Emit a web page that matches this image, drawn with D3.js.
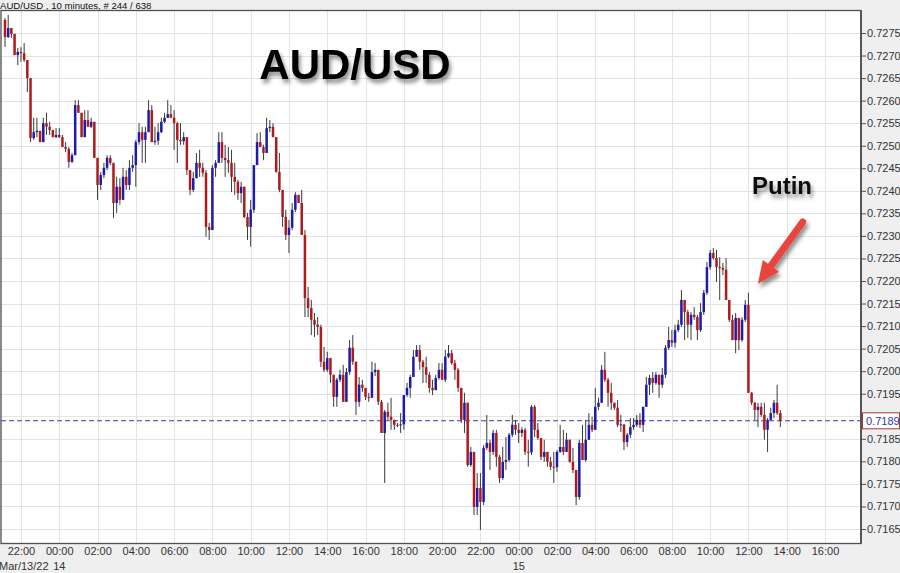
<!DOCTYPE html>
<html>
<head>
<meta charset="utf-8">
<script src="https://cdn.jsdelivr.net/npm/d3@7"></script>
<style>
  html, body { margin: 0; padding: 0; background: #efefef; }
  svg { display: block; font-family: "Liberation Sans", Arial, sans-serif; }
</style>
</head>
<body>
<svg id="chart" width="900" height="573"></svg>
<script>
// 10 minute AUD/USD bars, first bar 21:10 Mar 13 2022, open of each bar = previous close
const startTime = Date.UTC(2022, 2, 13, 21, 10);
const barMinutes = 10;
const firstOpen = 0.72779;

const close = [
  .72741,.72761,.72748,.72701,.72708,.72705,.72690,.72650,.72517,.72530,
  .72533,.72508,.72550,.72542,.72535,.72519,.72524,.72519,.72497,.72493,
  .72464,.72479,.72590,.72573,.72519,.72557,.72542,.72553,.72473,.72413,
  .72435,.72451,.72473,.72462,.72373,.72409,.72380,.72431,.72413,.72451,
  .72457,.72508,.72530,.72513,.72530,.72579,.72508,.72511,.72530,.72553,
  .72562,.72570,.72562,.72550,.72513,.72510,.72519,.72446,.72402,.72428,
  .72462,.72451,.72440,.72320,.72313,.72451,.72462,.72508,.72473,.72468,
  .72462,.72431,.72420,.72395,.72409,.72342,.72320,.72358,.72457,.72508,
  .72497,.72484,.72539,.72542,.72519,.72442,.72402,.72342,.72302,.72318,
  .72358,.72391,.72373,.72302,.72162,.72140,.72114,.72103,.72098,.72021,
  .72003,.72029,.71992,.71943,.71981,.71992,.71932,.71998,.72052,.72021,
  .71932,.71970,.71963,.71943,.71941,.71998,.72003,.71932,.71863,.71910,
  .71899,.71892,.71881,.71880,.71882,.71947,.71963,.71987,.72032,.72047,
  .72021,.72009,.71992,.71963,.71958,.71985,.72003,.71981,.72032,.72040,
  .72018,.72003,.71963,.71892,.71930,.71792,.71821,.71699,.71741,.71710,
  .71830,.71841,.71821,.71863,.71810,.71763,.71799,.71803,.71859,.71881,
  .71870,.71863,.71870,.71821,.71820,.71921,.71870,.71852,.71810,.71821,
  .71799,.71788,.71787,.71821,.71832,.71821,.71848,.71799,.71781,.71721,
  .71841,.71803,.71848,.71881,.71870,.71921,.71930,.72003,.71981,.71952,
  .71930,.71919,.71881,.71882,.71843,.71859,.71876,.71881,.71892,.71881,
  .71921,.71970,.71985,.71974,.71992,.71970,.71992,.72052,.72069,.72063,
  .72091,.72103,.72158,.72131,.72103,.72125,.72120,.72091,.72131,.72174,
  .72231,.72262,.72251,.72231,.72229,.72225,.72158,.72114,.72069,.72118,
  .72069,.72114,.72147,.71952,.71930,.71914,.71921,.71903,.71870,.71892,
  .71907,.71930,.71907,.71890
];

const high = [
  .72783,.72790,.72761,.72748,.72717,.72719,.72728,.72690,.72650,.72562,
  .72562,.72530,.72562,.72573,.72553,.72535,.72539,.72539,.72524,.72508,
  .72497,.72484,.72601,.72601,.72573,.72579,.72579,.72562,.72553,.72473,
  .72442,.72462,.72479,.72479,.72462,.72431,.72428,.72451,.72446,.72468,
  .72479,.72513,.72550,.72542,.72542,.72601,.72590,.72542,.72550,.72562,
  .72573,.72601,.72590,.72579,.72553,.72550,.72530,.72519,.72446,.72442,
  .72484,.72491,.72462,.72446,.72329,.72457,.72468,.72530,.72530,.72502,
  .72497,.72491,.72462,.72424,.72420,.72409,.72351,.72380,.72457,.72528,
  .72530,.72502,.72562,.72557,.72550,.72519,.72484,.72402,.72358,.72335,
  .72373,.72397,.72391,.72402,.72313,.72187,.72158,.72129,.72120,.72103,
  .72054,.72043,.72029,.71992,.71985,.72003,.72014,.72007,.72069,.72080,
  .72021,.71987,.71981,.71963,.71952,.72021,.72018,.71998,.71936,.71914,
  .71930,.71941,.71885,.71885,.71907,.71947,.71974,.71992,.72047,.72058,
  .72058,.72025,.72032,.71998,.71981,.71992,.72018,.72018,.72047,.72058,
  .72047,.72025,.72007,.71963,.71952,.71930,.71832,.71819,.71774,.71774,
  .71836,.71903,.71848,.71870,.71870,.71814,.71832,.71854,.71863,.71903,
  .71892,.71885,.71876,.71874,.71848,.71925,.71925,.71885,.71841,.71848,
  .71821,.71810,.71821,.71825,.71881,.71870,.71863,.71848,.71830,.71781,
  .71848,.71881,.71892,.71907,.71899,.71963,.71941,.72014,.72043,.71985,
  .71974,.71930,.71936,.71903,.71881,.71863,.71896,.71896,.71903,.71907,
  .71921,.71987,.71992,.71998,.71998,.71987,.72007,.72058,.72098,.72091,
  .72103,.72114,.72180,.72158,.72136,.72131,.72142,.72125,.72151,.72180,
  .72242,.72269,.72273,.72269,.72253,.72240,.72251,.72158,.72125,.72129,
  .72118,.72120,.72158,.72174,.71954,.71932,.71930,.71930,.71930,.71896,
  .71919,.71936,.71970,.71914
];

const low = [
  .72719,.72739,.72739,.72701,.72679,.72686,.72686,.72619,.72508,.72513,
  .72519,.72508,.72508,.72524,.72524,.72519,.72517,.72517,.72497,.72486,
  .72451,.72462,.72479,.72573,.72519,.72519,.72542,.72539,.72473,.72380,
  .72402,.72428,.72446,.72457,.72340,.72351,.72369,.72380,.72402,.72402,
  .72442,.72409,.72502,.72462,.72462,.72530,.72508,.72502,.72502,.72528,
  .72550,.72562,.72562,.72491,.72462,.72502,.72502,.72435,.72391,.72397,
  .72428,.72431,.72431,.72298,.72291,.72313,.72431,.72462,.72462,.72431,
  .72440,.72397,.72391,.72380,.72373,.72340,.72291,.72276,.72351,.72457,
  .72497,.72468,.72484,.72530,.72519,.72440,.72397,.72320,.72291,.72262,
  .72313,.72353,.72373,.72302,.72120,.72120,.72080,.72076,.72080,.72009,
  .71998,.71998,.71974,.71921,.71921,.71976,.71932,.71932,.71992,.72014,
  .71903,.71921,.71954,.71936,.71932,.71941,.71989,.71925,.71863,.71752,
  .71892,.71870,.71870,.71876,.71863,.71870,.71943,.71941,.71987,.72032,
  .72003,.71974,.71974,.71952,.71947,.71958,.71981,.71981,.71976,.72029,
  .72014,.71981,.71954,.71885,.71863,.71788,.71788,.71681,.71681,.71648,
  .71703,.71825,.71781,.71814,.71788,.71752,.71759,.71781,.71799,.71854,
  .71859,.71841,.71854,.71814,.71788,.71814,.71854,.71848,.71803,.71799,
  .71788,.71781,.71752,.71777,.71819,.71814,.71821,.71797,.71774,.71703,
  .71715,.71803,.71799,.71848,.71865,.71870,.71914,.71930,.71976,.71921,
  .71914,.71914,.71876,.71865,.71825,.71832,.71852,.71870,.71876,.71874,
  .71865,.71921,.71947,.71952,.71970,.71941,.71963,.71985,.72047,.72054,
  .72052,.72087,.72098,.72069,.72074,.72069,.72114,.72069,.72087,.72125,
  .72169,.72225,.72247,.72198,.72158,.72213,.72158,.72109,.72069,.72040,
  .72047,.72065,.72109,.71952,.71925,.71892,.71876,.71899,.71848,.71821,
  .71892,.71896,.71903,.71876
];

const priceTicks = [
  0.7165, 0.7170, 0.7175, 0.7180, 0.7185, 0.7190, 0.7195, 0.7200, 0.7205, 0.7210, 0.7215, 0.7220,
  0.7225, 0.7230, 0.7235, 0.7240, 0.7245, 0.7250, 0.7255, 0.7260, 0.7265, 0.7270, 0.7275
];
const lastPrice = 0.7189;
const dateLabels = [
  { t: Date.UTC(2022, 2, 13, 21, 10), text: "Mar/13/22" },
  { t: Date.UTC(2022, 2, 14, 0, 0), text: "14" },
  { t: Date.UTC(2022, 2, 15, 0, 0), text: "15" }
];
const headerText = "AUD/USD , 10 minutes, # 244 / 638";
const titleText = "AUD/USD";
const noteText = "Putin";
// arrow annotation, in bar index / price
const arrowFrom = { bar: 250, price: 0.72331 };
const arrowTo = { bar: 236, price: 0.72194 };

const svg = d3.select("#chart");
const frame = { left: 1, right: 861, top: 10.5, bottom: 543.5 };
const barMs = barMinutes * 60 * 1000;

const x = d3.scaleUtc()
  .domain([new Date(startTime), new Date(Date.UTC(2022, 2, 15, 16, 0))])
  .range([5, 825]);
const y = d3.scaleLinear()
  .domain([0.7165, 0.7275])
  .range([529, 33]);

const timeTicks = d3.utcHour.every(2).range(new Date(Date.UTC(2022, 2, 13, 22)), new Date(Date.UTC(2022, 2, 15, 16, 1)));

const bars = close.map((c, i) => {
  const o = i ? close[i - 1] : firstOpen;
  return {
    t: new Date(startTime + i * barMs),
    o: o, c: c,
    h: Math.max(high[i], o, c),
    l: Math.min(low[i], o, c)
  };
});

// defs: shadows
const defs = svg.append("defs");
const sh = defs.append("filter").attr("id", "shadow").attr("x", "-20%").attr("y", "-20%").attr("width", "150%").attr("height", "160%");
sh.append("feGaussianBlur").attr("in", "SourceAlpha").attr("stdDeviation", 2.2).attr("result", "b");
sh.append("feOffset").attr("in", "b").attr("dx", 2).attr("dy", 4).attr("result", "o");
sh.append("feComponentTransfer").attr("in", "o").attr("result", "s")
  .append("feFuncA").attr("type", "linear").attr("slope", 0.45);
const m = sh.append("feMerge");
m.append("feMergeNode").attr("in", "s");
m.append("feMergeNode").attr("in", "SourceGraphic");

// background
svg.append("rect").attr("width", 900).attr("height", 573).attr("fill", "#efefef");
svg.append("rect")
  .attr("x", frame.left).attr("y", frame.top)
  .attr("width", frame.right - frame.left).attr("height", frame.bottom - frame.top)
  .attr("fill", "#fff");

// header
svg.append("text").attr("x", 0).attr("y", 8.5)
  .attr("font-size", 9.6).attr("fill", "#111")
  .text(headerText);

// grid
const grid = svg.append("g").attr("stroke", "#e3e3e3").attr("stroke-width", 1);
grid.selectAll(".gy").data(priceTicks).join("line")
  .attr("x1", frame.left).attr("x2", frame.right)
  .attr("y1", d => Math.round(y(d)) + 0.5).attr("y2", d => Math.round(y(d)) + 0.5);
grid.selectAll(".gx").data(timeTicks).join("line")
  .attr("x1", d => Math.round(x(d)) + 0.5).attr("x2", d => Math.round(x(d)) + 0.5)
  .attr("y1", frame.top).attr("y2", frame.bottom);

// title
svg.append("text")
  .attr("x", 355).attr("y", 79)
  .attr("text-anchor", "middle")
  .attr("font-size", 42).attr("font-weight", "bold").attr("fill", "#000")
  .attr("filter", "url(#shadow)")
  .text(titleText);

// last price line
svg.append("line")
  .attr("x1", frame.left).attr("x2", frame.right)
  .attr("y1", y(lastPrice)).attr("y2", y(lastPrice))
  .attr("stroke", "#3a3a9c").attr("stroke-width", 1)
  .attr("stroke-dasharray", "5,3");

// candles
const candles = svg.append("g");
candles.selectAll("line").data(bars).join("line")
  .attr("x1", d => x(d.t)).attr("x2", d => x(d.t))
  .attr("y1", d => y(d.h)).attr("y2", d => y(d.l))
  .attr("stroke", "#3a3a3a").attr("stroke-width", 1);
candles.selectAll("rect").data(bars).join("rect")
  .attr("x", d => x(d.t) - 1.25)
  .attr("width", 2.5)
  .attr("y", d => y(Math.max(d.o, d.c)))
  .attr("height", d => Math.max(1, Math.abs(y(d.o) - y(d.c))))
  .attr("fill", d => d.c > d.o ? "#1c1ca8" : d.c < d.o ? "#b01a1a" : "#333");

// frame
svg.append("rect")
  .attr("x", frame.left).attr("y", frame.top)
  .attr("width", frame.right - frame.left).attr("height", frame.bottom - frame.top)
  .attr("fill", "none").attr("stroke", "#505050").attr("stroke-width", 1.3);

// right axis (the label under the last price box is left out, the box covers it)
const yAxis = svg.append("g")
  .attr("transform", `translate(${frame.right},0)`)
  .call(d3.axisRight(y).tickValues(priceTicks).tickSize(5).tickPadding(1)
    .tickFormat(d => Math.abs(d - lastPrice) < 0.0003 ? "" : d3.format(".4f")(d)));
yAxis.select(".domain").remove();
yAxis.selectAll("line").attr("stroke", "#505050");
yAxis.selectAll("text").attr("fill", "#333").attr("font-size", 11).attr("font-family", "Liberation Sans, Arial, sans-serif");
svg.append("line")
  .attr("x1", frame.right).attr("x2", frame.right)
  .attr("y1", frame.top).attr("y2", frame.bottom)
  .attr("stroke", "#505050").attr("stroke-width", 1.8);

// bottom axis
const xAxis = svg.append("g")
  .attr("transform", `translate(0,${frame.bottom})`)
  .call(d3.axisBottom(x).tickValues(timeTicks).tickSize(0).tickPadding(4).tickFormat(d3.utcFormat("%H:%M")));
xAxis.select(".domain").remove();
xAxis.selectAll("text").attr("fill", "#333").attr("font-size", 11).attr("font-family", "Liberation Sans, Arial, sans-serif");

svg.append("g").selectAll("text").data(dateLabels).join("text")
  .attr("x", d => x(new Date(d.t)) - 6)
  .attr("y", 570)
  .attr("font-size", 11).attr("fill", "#333")
  .text(d => d.text);

// last price box
const lp = svg.append("g").attr("transform", `translate(${frame.right + 1},${y(lastPrice)})`);
lp.append("rect").attr("x", 0.5).attr("y", -8).attr("width", 37).attr("height", 16)
  .attr("fill", "#fff").attr("stroke", "#a83a35").attr("stroke-width", 1);
lp.append("text").attr("x", 4).attr("y", 4).attr("font-size", 11).attr("fill", "#3636b0")
  .text(d3.format(".4f")(lastPrice));

// annotation
const barX = b => x(new Date(startTime + b * barMs));
const ax0 = barX(arrowFrom.bar), ay0 = y(arrowFrom.price);
const ax1 = barX(arrowTo.bar), ay1 = y(arrowTo.price);
const len = Math.hypot(ax1 - ax0, ay1 - ay0);
const ux = (ax1 - ax0) / len, uy = (ay1 - ay0) / len;
const headLen = 22, headHalf = 10;
const bx = ax1 - ux * headLen, by = ay1 - uy * headLen;
const arrow = svg.append("g").attr("filter", "url(#shadow)");
arrow.append("line")
  .attr("x1", ax0).attr("y1", ay0).attr("x2", bx + ux * 4).attr("y2", by + uy * 4)
  .attr("stroke", "#e8443d").attr("stroke-width", 7).attr("stroke-linecap", "round");
arrow.append("path")
  .attr("d", `M${ax1},${ay1}L${bx - uy * headHalf},${by + ux * headHalf}L${bx + uy * headHalf},${by - ux * headHalf}Z`)
  .attr("fill", "#e8443d");

svg.append("text")
  .attr("x", 752).attr("y", 194)
  .attr("font-size", 24).attr("font-weight", "bold").attr("fill", "#111")
  .attr("filter", "url(#shadow)")
  .text(noteText);
</script>
</body>
</html>
